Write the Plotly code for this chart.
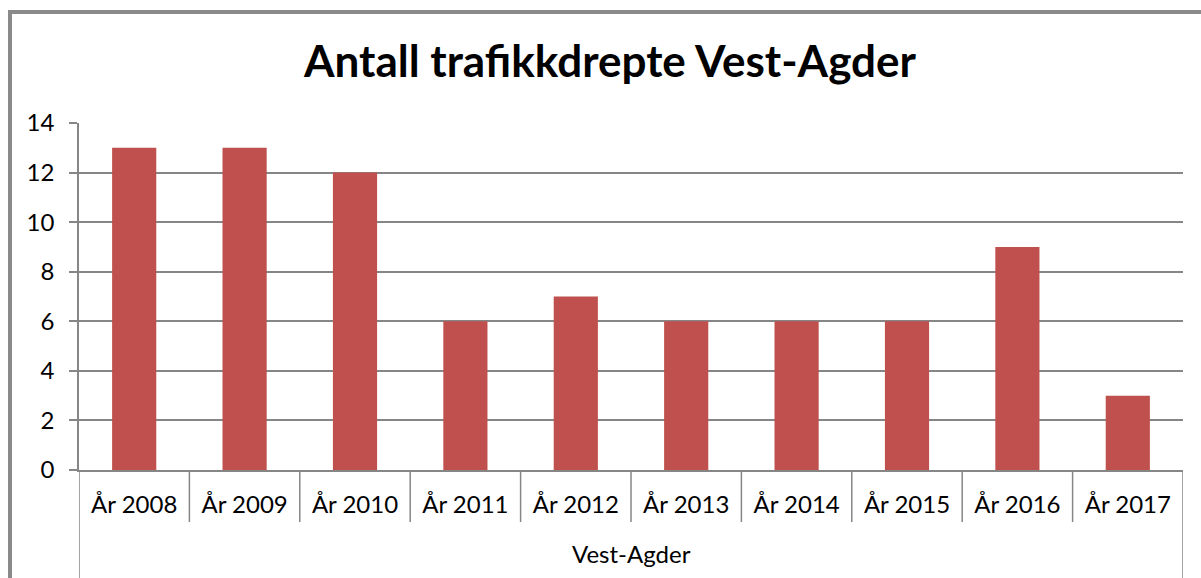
import plotly.graph_objects as go

years = ["År 2008", "År 2009", "År 2010", "År 2011", "År 2012",
         "År 2013", "År 2014", "År 2015", "År 2016", "År 2017"]
values = [13, 13, 12, 6, 7, 6, 6, 6, 9, 3]
group_label = "Vest-Agder"
title = "Antall trafikkdrepte Vest-Agder"
y_ticks = [0, 2, 4, 6, 8, 10, 12, 14]

W, H = 1201, 578
L, R, T, B = 79, 18, 123, 108
plot_h = H - T - B
plot_w = W - L - R

GRID = "#868686"
BAR = "#C0504D"
FONT = "Lato"

fig = go.Figure(go.Bar(x=years, y=values, marker=dict(color=BAR, line=dict(width=0))))

shapes = []
# separators between category labels
for i in range(len(years) + 1):
    is_edge = i == 0 or i == len(years)
    y0 = -(B if is_edge else 52) / plot_h
    shapes.append(dict(type="line", xref="x", yref="paper", x0=i - 0.5, x1=i - 0.5,
                       y0=0, y1=y0, line=dict(color=GRID, width=1.5), layer="above"))
# outer chart border (left and top)
shapes.append(dict(type="line", xref="paper", yref="paper",
                   x0=(10 - L) / plot_w, x1=(10 - L) / plot_w,
                   y0=1 + (T - 10) / plot_h, y1=-B / plot_h,
                   line=dict(color="#8a8a8a", width=4)))
shapes.append(dict(type="line", xref="paper", yref="paper",
                   x0=(8 - L) / plot_w, x1=(W - L) / plot_w,
                   y0=1 + (T - 12) / plot_h, y1=1 + (T - 12) / plot_h,
                   line=dict(color="#8a8a8a", width=4)))

fig.update_layout(
    width=W, height=H,
    margin=dict(l=L, r=R, t=T, b=B),
    paper_bgcolor="white", plot_bgcolor="white",
    bargap=0.6,
    showlegend=False,
    title=dict(text="<b>" + title + "</b>", x=610 / W, xanchor="center",
               y=1 - 62 / H, yanchor="middle", yref="container",
               font=dict(family=FONT, size=44, color="black")),
    font=dict(family=FONT, size=24, color="black"),
    xaxis=dict(type="category", showgrid=False, showline=True, linecolor=GRID, linewidth=1.5,
               ticks="", ticklabelstandoff=12, tickfont=dict(size=24, family=FONT),
               range=[-0.5, len(years) - 0.5], fixedrange=True),
    yaxis=dict(range=[0, 14], tickvals=y_ticks, showgrid=True, gridcolor=GRID, gridwidth=1.5,
               showline=True, linecolor=GRID, linewidth=1.5, ticks="outside", ticklen=8,
               tickcolor=GRID, tickwidth=1.5, ticklabelstandoff=10, zeroline=False,
               tickfont=dict(size=24, family=FONT)),
    shapes=shapes,
    annotations=[dict(text=group_label, xref="paper", yref="paper", x=0.5,
                      y=-(553 - (H - B)) / plot_h, xanchor="center", yanchor="middle",
                      showarrow=False, font=dict(size=24, family=FONT, color="black"))],
)

fig.write_html("out.html", config={"displayModeBar": False})

# remove the default page margin so the figure sits at the window origin
with open("out.html", encoding="utf-8") as f:
    html = f.read()
html = html.replace("<head>", "<head><style>html,body{margin:0;padding:0;overflow:hidden;}</style>", 1)
with open("out.html", "w", encoding="utf-8") as f:
    f.write(html)
